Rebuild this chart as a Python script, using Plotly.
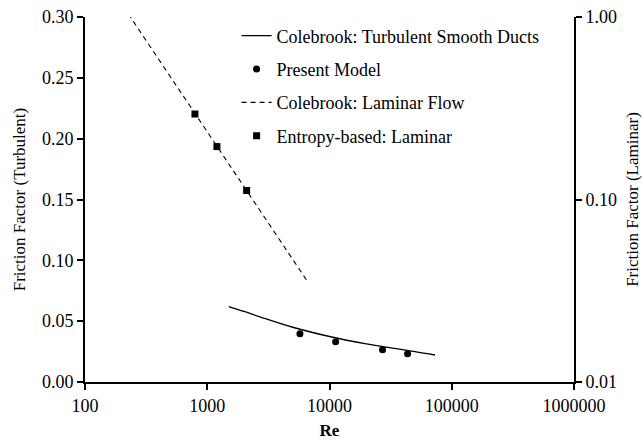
import plotly.graph_objects as go

# Reynolds numbers and friction factors
re_turb_curve = [1500, 2000, 3000, 5000, 10000, 20000, 30000, 50000, 73000]
f_turb_curve = [0.062, 0.058, 0.052, 0.045, 0.0374, 0.0313, 0.0284, 0.0250, 0.0222]

re_model = [5730, 11220, 27150, 43500]
f_model = [0.0397, 0.0331, 0.0265, 0.0233]

re_lam_line = [226, 6580]
f_lam_line = [1.04, 0.0357]

re_entropy = [793, 1200, 2100]
f_entropy = [0.294, 0.195, 0.112]

x_ticks = [100, 1000, 10000, 100000, 1000000]
x_tick_text = ["100", "1000", "10000", "100000", "1000000"]
y2_ticks = [0.01, 0.1, 1.0]
y2_tick_text = ["0.01", "0.10", "1.00"]

FONT = "Liberation Serif"

fig = go.Figure()

fig.add_trace(go.Scatter(
    x=re_turb_curve, y=f_turb_curve, mode="lines",
    line=dict(color="black", width=1.3, shape="spline"),
    name="Colebrook: Turbulent Smooth Ducts", legendgroup="a",
))
fig.add_trace(go.Scatter(
    x=re_model, y=f_model, mode="markers",
    marker=dict(symbol="circle", size=7, color="black"),
    name="Present Model", legendgroup="b",
))
fig.add_trace(go.Scatter(
    x=re_lam_line, y=f_lam_line, mode="lines", yaxis="y2",
    line=dict(color="black", width=1.1, dash="5px,4px"),
    name="Colebrook: Laminar Flow", legendgroup="c",
))
fig.add_trace(go.Scatter(
    x=re_entropy, y=f_entropy, mode="markers", yaxis="y2",
    marker=dict(symbol="square", size=7, color="black"),
    name="Entropy-based: Laminar", legendgroup="d",
))

axis_common = dict(
    showline=True, linecolor="black", linewidth=2,
    ticks="outside", ticklen=6, tickwidth=2, tickcolor="black",
    showgrid=False, zeroline=False, automargin=False,
    tickfont=dict(family=FONT, size=18, color="black"),
)

fig.update_layout(
    width=642, height=440,
    margin=dict(l=85, r=68, t=17, b=58),
    paper_bgcolor="white", plot_bgcolor="white",
    font=dict(family=FONT, size=18, color="black"),
    xaxis=dict(
        type="log", range=[2, 6], tickvals=x_ticks, ticktext=x_tick_text,
        title=dict(text="<b>Re</b>", font=dict(family=FONT, size=17), standoff=11),
        **axis_common,
    ),
    yaxis=dict(
        range=[0, 0.30], dtick=0.05, tickformat=".2f",
        title=dict(text="Friction Factor (Turbulent)", font=dict(family=FONT, size=17), standoff=12),
        **axis_common,
    ),
    yaxis2=dict(
        type="log", range=[-2, 0], overlaying="y", side="right",
        tickvals=y2_ticks, ticktext=y2_tick_text,
        title=dict(text="Friction Factor (Laminar)", font=dict(family=FONT, size=17), standoff=22),
        **axis_common,
    ),
    legend=dict(
        x=0.31, y=0.999, xanchor="left", yanchor="top",
        bgcolor="rgba(0,0,0,0)", traceorder="grouped", tracegroupgap=7,
        font=dict(family=FONT, size=18, color="black"),
    ),
)

fig.write_html("out.html")
